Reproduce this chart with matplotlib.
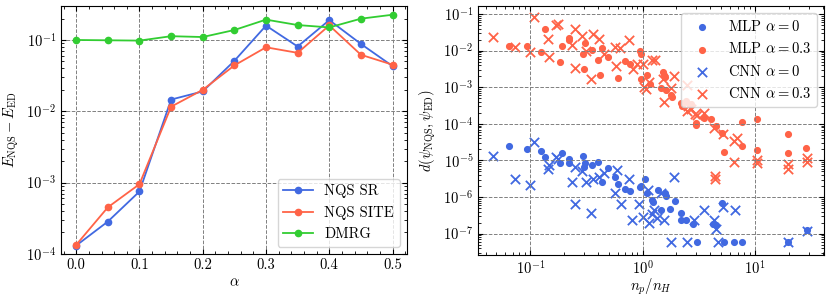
import numpy as np
import matplotlib
matplotlib.use('Agg')
import matplotlib.pyplot as plt

plt.rcParams['font.family'] = ['cmr10', 'DejaVu Serif']
plt.rcParams['mathtext.fontset'] = 'cm'
plt.rcParams['axes.formatter.use_mathtext'] = True
plt.rcParams['font.size'] = 10.5
plt.rcParams['xtick.direction'] = 'in'
plt.rcParams['ytick.direction'] = 'in'
plt.rcParams['xtick.top'] = True
plt.rcParams['ytick.right'] = True
plt.rcParams['xtick.minor.visible'] = True
plt.rcParams['ytick.minor.visible'] = True

BLUE = '#4169e1'
RED = '#ff6347'
GREEN = '#32cd32'

# left panel: energy error vs alpha
alpha = [0.0, 0.05, 0.1, 0.15, 0.2, 0.25, 0.3, 0.35, 0.4, 0.45, 0.5]
nqs_sr = [1.31e-4, 2.84e-4, 7.5e-4, 1.46e-2, 1.9e-2, 5.1e-2, 0.159, 0.081, 0.19, 0.088, 0.043]
nqs_site = [1.34e-4, 4.5e-4, 9.5e-4, 1.16e-2, 2.0e-2, 4.4e-2, 0.079, 0.066, 0.16, 0.062, 0.045]
dmrg = [0.100, 0.099, 0.098, 0.113, 0.110, 0.138, 0.193, 0.162, 0.150, 0.199, 0.226]

# right panel: distance vs n_p/n_H
mlp3_x = [0.064, 0.093, 0.124, 0.136, 0.182, 0.191, 0.219, 0.222, 0.294, 0.303, 0.307, 0.357,
          0.398, 0.42, 0.435, 0.49, 0.60, 0.70, 0.766, 0.95, 0.966, 0.966, 1.09, 1.16, 1.45,
          1.53, 1.56, 1.58, 1.63, 1.78, 1.82, 2.18, 2.22, 2.45, 2.7, 3.0, 3.0, 3.5, 4.07, 4.5,
          5.05, 5.33, 7.6, 7.6, 10.5, 10.5, 19.5, 19.5, 28.2]
mlp3_y = [0.0135, 0.0138, 0.0089, 0.038, 0.0049, 0.0135, 0.0218, 0.019, 0.008, 0.0032, 0.016, 0.0105,
          0.0056, 0.0022, 0.0117, 0.0069, 0.0018, 0.0052, 0.0044, 0.0095, 0.0082, 0.0017, 0.0022, 0.0012, 0.00096,
          0.0026, 0.0021, 0.0019, 0.00083, 0.00063, 0.00055, 0.00036, 0.0003, 0.00042, 0.00034, 9.4e-5, 1.05e-4, 1.44e-4, 1.34e-4, 8.5e-5,
          5.5e-5, 1.74e-5, 2.5e-5, 1.13e-4, 1.34e-4, 1.94e-5, 5.2e-5, 1.57e-5, 2.2e-5]

mlp0_x = [0.064, 0.093, 0.124, 0.136, 0.185, 0.191, 0.219, 0.222, 0.292, 0.300, 0.307, 0.357,
          0.398, 0.435, 0.49, 0.57, 0.60, 0.70, 0.77, 0.955, 0.97, 1.06, 1.1, 1.2, 1.24,
          1.37, 1.47, 1.58, 1.6, 1.77, 1.93, 2.18, 2.18, 2.44, 2.8, 3.05, 4.2, 4.5, 5.1,
          5.3, 6.5, 7.6, 19.5, 28.8]
mlp0_y = [2.5e-5, 2.1e-5, 1.85e-5, 1.22e-5, 8.3e-6, 1.58e-5, 1.1e-5, 8.3e-6, 1.3e-5, 6.5e-6, 8.3e-6, 7.3e-6,
          9.3e-6, 2.5e-6, 6.2e-6, 3.6e-6, 2.3e-6, 1.66e-6, 1.44e-6, 1.84e-6, 2.0e-6, 3.2e-6, 1.32e-6, 8.3e-7, 7.4e-7,
          1.55e-6, 4.4e-7, 1.26e-6, 1.1e-6, 4.7e-7, 7.9e-7, 3.6e-7, 2.4e-7, 2.4e-7, 1.8e-7, 6e-8, 1.8e-7, 1.7e-7, 7.1e-7,
          6e-8, 6e-8, 6e-8, 6e-8, 1.26e-7]

cnn0_x = [0.047, 0.073, 0.099, 0.107, 0.144, 0.146, 0.171, 0.178, 0.233, 0.248, 0.25, 0.288,
          0.316, 0.35, 0.36, 0.41, 0.456, 0.567, 0.59, 0.64, 0.75, 0.80, 0.93, 1.0, 1.11,
          1.15, 1.2, 1.25, 1.35, 1.45, 1.55, 1.78, 1.9, 2.5, 2.86, 3.55, 4.35, 4.5, 4.65,
          5.2, 6.7, 19.6, 28.8]
cnn0_y = [1.3e-5, 3.2e-6, 2.1e-6, 3.2e-5, 5.7e-6, 7.6e-6, 1.27e-5, 1.1e-5, 2.5e-6, 6.5e-7, 6.5e-6, 5.1e-6,
          2.6e-6, 3.6e-7, 3.2e-6, 3.6e-6, 4.5e-6, 1.32e-6, 5.5e-6, 6.5e-7, 3.2e-6, 2.4e-7, 6.5e-7, 2.9e-7, 1.55e-6,
          1.9e-7, 3.5e-7, 4.5e-7, 2.6e-7, 1.3e-6, 2.4e-7, 6e-8, 3.6e-6, 6e-8, 2.3e-7, 4.4e-7, 2.3e-7, 1.3e-7, 6e-8,
          5.5e-7, 4.3e-7, 6e-8, 1.2e-7]

cnn3_x = [0.047, 0.073, 0.099, 0.107, 0.144, 0.146, 0.171, 0.176, 0.233, 0.248, 0.25, 0.288,
          0.316, 0.35, 0.36, 0.41, 0.456, 0.567, 0.58, 0.63, 0.75, 0.814, 0.90, 1.0, 1.03,
          1.07, 1.15, 1.2, 1.28, 1.53, 1.56, 1.78, 1.91, 2.46, 2.5, 2.55, 2.69, 2.9, 3.02,
          3.5, 4.35, 4.4, 4.4, 5.15, 6.45, 6.5, 6.9, 10.5, 10.5, 19.6, 19.6, 28.8, 28.8]
cnn3_y = [0.023, 0.0124, 0.0091, 0.085, 0.021, 0.0069, 0.05, 0.054, 0.0145, 0.0034, 0.039, 0.025,
          0.0095, 0.0017, 0.029, 0.0206, 0.0082, 0.0124, 0.0039, 0.0117, 0.019, 0.0031, 0.0044, 0.0044, 0.001,
          0.00087, 0.0014, 0.0055, 0.0057, 0.0017, 0.0004, 0.00093, 0.002, 0.00115, 0.00022, 0.0003, 0.00025, 0.00019, 0.00017,
          0.000195, 7.6e-5, 3.8e-6, 3.2e-6, 5.2e-5, 8.9e-6, 3.3e-5, 4.2e-5, 1.02e-5, 8.7e-6, 7.9e-6, 5.7e-6, 1.2e-5, 9.3e-6]

fig = plt.figure(figsize=(8.3, 2.98), dpi=100)
ax1 = fig.add_axes([0.0735, 0.148, 0.417, 0.832])
ax2 = fig.add_axes([0.576, 0.144, 0.417, 0.836])

ax1.plot(alpha, nqs_sr, '-o', color=BLUE, lw=1.3, ms=4.5, label='NQS SR')
ax1.plot(alpha, nqs_site, '-o', color=RED, lw=1.3, ms=4.5, label='NQS SITE')
ax1.plot(alpha, dmrg, '-o', color=GREEN, lw=1.3, ms=4.5, label='DMRG')
ax1.set_yscale('log')
ax1.set_ylim(1e-4, 0.3)
ax1.set_xlim(-0.024, 0.523)
ax1.set_xticks([0.0, 0.1, 0.2, 0.3, 0.4, 0.5])
ax1.xaxis.set_major_formatter(matplotlib.ticker.FormatStrFormatter('%.1f'))
ax1.set_xlabel(r'$\alpha$', labelpad=2)
ax1.set_ylabel(r'$E_{\mathrm{NQS}} - E_{\mathrm{ED}}$')
ax1.grid(True, which='major', ls='--', color='gray', lw=0.7)
ax1.legend(loc='lower right', fontsize=10.5)

ax2.scatter(mlp0_x, mlp0_y, s=17, color=BLUE, label=r'MLP $\alpha = 0$')
ax2.scatter(mlp3_x, mlp3_y, s=17, color=RED, label=r'MLP $\alpha = 0.3$')
ax2.scatter(cnn0_x, cnn0_y, s=45, marker='x', color=BLUE, linewidths=1.3, label=r'CNN $\alpha = 0$')
ax2.scatter(cnn3_x, cnn3_y, s=45, marker='x', color=RED, linewidths=1.3, label=r'CNN $\alpha = 0.3$')
ax2.set_xscale('log')
ax2.set_yscale('log')
ax2.set_xlim(0.0343, 41.3)
ax2.set_ylim(2.6e-8, 0.166)
ax2.set_yticks([1e-7, 1e-6, 1e-5, 1e-4, 1e-3, 1e-2, 1e-1])
ax2.set_xlabel(r'$n_p/n_H$', labelpad=-1)
ax2.set_ylabel(r'$d(\psi_{\mathrm{NQS}}, \psi_{\mathrm{ED}})$')
ax2.grid(True, which='major', ls='--', color='gray', lw=0.7)
ax2.legend(loc='upper right', fontsize=10.5)

fig.savefig('out.png', dpi=100)
